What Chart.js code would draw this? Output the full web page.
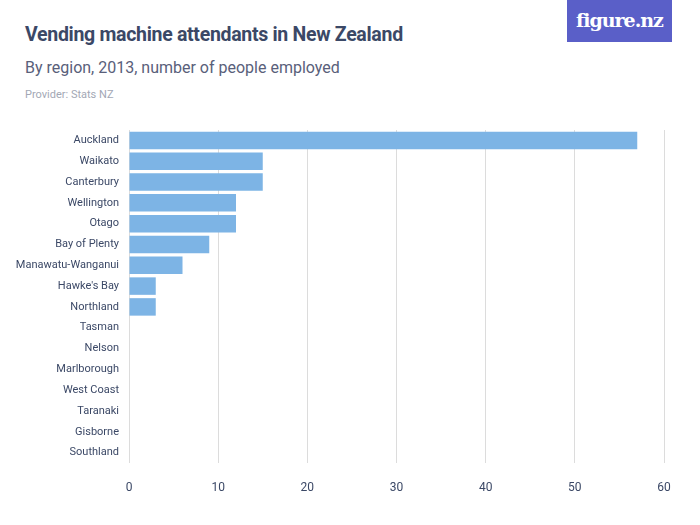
<!DOCTYPE html>
<html><head><meta charset="utf-8">
<script src="https://cdn.jsdelivr.net/npm/chart.js@4/dist/chart.umd.min.js"></script>
<style>
body{margin:0;width:700px;height:525px;position:relative;background:#fff;font-family:Roboto,"Liberation Sans",sans-serif;overflow:hidden}
#c{position:absolute;left:0;top:0}
.t{position:absolute;left:25px;white-space:nowrap}
#logo{position:absolute;left:567px;top:0;width:105px;height:42px;background:#5a5fc8;color:#fff;font:bold 19px "DejaVu Serif",serif;text-align:center;line-height:40px;letter-spacing:-1px}
</style></head><body>
<div class="t" style="top:23px;font-size:19.5px;font-weight:bold;color:#3b4866;letter-spacing:-0.3px">Vending machine attendants in New Zealand</div>
<div class="t" style="top:58px;font-size:16px;color:#59607a">By region, 2013, number of people employed</div>
<div class="t" style="top:88px;font-size:11px;color:#a3a8b5">Provider: Stats NZ</div>
<div id="logo">figure.nz</div>
<canvas id="c" width="700" height="525"></canvas>
<script>
const categories=["Auckland","Waikato","Canterbury","Wellington","Otago","Bay of Plenty","Manawatu-Wanganui","Hawke's Bay","Northland","Tasman","Nelson","Marlborough","West Coast","Taranaki","Gisborne","Southland"];
const values=[57,15,15,12,12,9,6,3,3,0,0,0,0,0,0,0];
const xTicks=[0,10,20,30,40,50,60];
new Chart(document.getElementById('c'),{type:'bar',
data:{labels:categories,datasets:[{data:values,backgroundColor:'#7db4e5',barPercentage:0.84,categoryPercentage:1}]},
options:{indexAxis:'y',responsive:false,animation:false,
layout:{padding:{top:130,right:36,bottom:26,left:0}},
plugins:{legend:{display:false},tooltip:{enabled:false}},
scales:{
x:{min:0,max:60,afterBuildTicks:s=>{s.ticks=xTicks.map(v=>({value:v}))},
 grid:{color:'#dcdcdc',drawTicks:false},border:{display:false},
 ticks:{color:'#3b4866',font:{size:12,family:'Roboto'},padding:18},
 afterFit:s=>{s.height=36}},
y:{grid:{display:false,drawTicks:false},border:{display:false},
 ticks:{color:'#3b4866',font:{size:11,family:'"Liberation Sans Narrow", Roboto'},padding:10},
 afterFit:s=>{s.width=129}}
}}});
</script></body></html>
